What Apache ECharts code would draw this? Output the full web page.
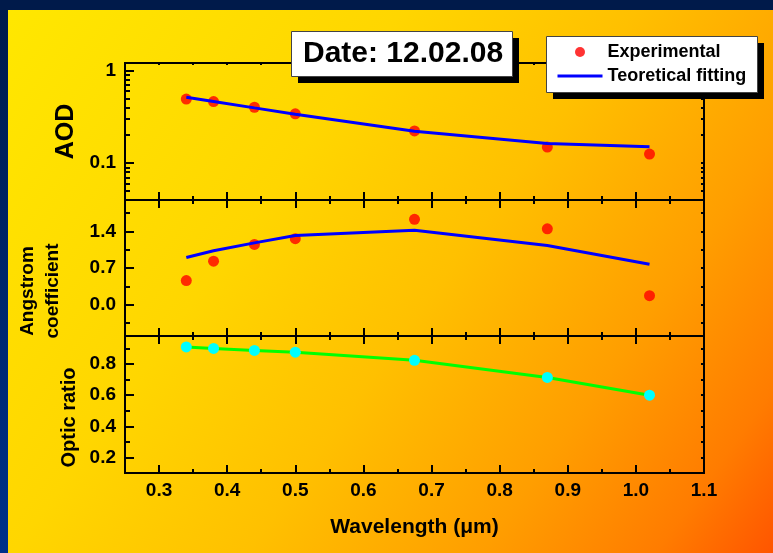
<!DOCTYPE html>
<html>
<head>
<meta charset="utf-8">
<script src="https://cdn.jsdelivr.net/npm/echarts@6/dist/echarts.min.js"></script>
<style>
  html, body { margin: 0; padding: 0; background: #001a4a; }
  #chart { width: 773px; height: 553px; }
</style>
</head>
<body>
<div id="chart"></div>
<script>
// Measurement wavelengths (µm)
const wavelengths = [0.34, 0.38, 0.44, 0.50, 0.675, 0.87, 1.02];

// Aerosol optical depth: measured and fitted
const aodMeasured = [0.49, 0.46, 0.40, 0.34, 0.222, 0.149, 0.125];
const aodFit = [0.514, 0.462, 0.394, 0.337, 0.220, 0.163, 0.150];

// Angstrom coefficient: measured and fitted
const angstromMeasured = [0.46, 0.83, 1.15, 1.26, 1.63, 1.45, 0.17];
const angstromFit = [0.90, 1.03, 1.18, 1.32, 1.42, 1.13, 0.77];

// Optic ratio
const opticRatio = [0.91, 0.90, 0.887, 0.876, 0.824, 0.714, 0.60];

// Tick positions
const wavelengthTicks = [0.3, 0.4, 0.5, 0.6, 0.7, 0.8, 0.9, 1.0, 1.1];
const wavelengthMinorTicks = [0.35, 0.45, 0.55, 0.65, 0.75, 0.85, 0.95, 1.05];
const aodMinorTicks = [0.05, 0.06, 0.07, 0.08, 0.09, 0.2, 0.3, 0.4, 0.5, 0.6, 0.7, 0.8, 0.9];
const aodAllTicks = [0.05, 0.06, 0.07, 0.08, 0.09, 0.1, 0.2, 0.3, 0.4, 0.5, 0.6, 0.7, 0.8, 0.9, 1];
const angstromTicks = [0.0, 0.7, 1.4];
const angstromMinorTicks = [-0.35, 0.35, 1.05, 1.75];
const opticTicks = [0.2, 0.4, 0.6, 0.8];
const opticMinorTicks = [0.3, 0.5, 0.7, 0.9];

const FONT = '"Liberation Sans", Arial, Helvetica, sans-serif';
const X_RANGE = [0.25, 1.1];
const AOD_RANGE = [0.04, 1.2];
const ANG_RANGE = [-0.6, 2.0];
const OPT_RANGE = [0.1, 0.98];

const zip = (xs, ys) => xs.map((x, i) => [x, ys[i]]);
const labelStyle = { color: '#000', fontSize: 19, fontWeight: 'bold', fontFamily: FONT };

const grids = [
  { left: 125, right: 69, top: 63, height: 137, containLabel: false, outerBoundsMode: 'none' },
  { left: 125, right: 69, top: 200, height: 136, containLabel: false, outerBoundsMode: 'none' },
  { left: 125, right: 69, top: 336, height: 137, containLabel: false, outerBoundsMode: 'none' }
];

const xAxes = [];
const yAxes = [];

function addX(gridIndex, position, ticks, len, extra) {
  xAxes.push(Object.assign({
    type: 'value', gridIndex, position, min: X_RANGE[0], max: X_RANGE[1],
    axisLine: { show: true, onZero: false, lineStyle: { color: '#000', width: 2 } },
    axisTick: { show: true, inside: true, length: len, customValues: ticks,
                lineStyle: { color: '#000', width: 2 } },
    axisLabel: { show: false },
    splitLine: { show: false }
  }, extra || {}));
  return xAxes.length - 1;
}

function addY(gridIndex, position, range, ticks, len, extra) {
  yAxes.push(Object.assign({
    type: 'value', gridIndex, position, min: range[0], max: range[1],
    axisLine: { show: true, onZero: false, lineStyle: { color: '#000', width: 2 } },
    axisTick: { show: true, inside: true, length: len, customValues: ticks,
                lineStyle: { color: '#000', width: 2 } },
    axisLabel: { show: false },
    splitLine: { show: false }
  }, extra || {}));
  return yAxes.length - 1;
}

// Wavelength axes: each panel has inward ticks on its bottom and top edges
const xMain = [];
for (let g = 0; g < 3; g++) {
  const bottomExtra = g === 2 ? {
    axisLabel: { show: true, customValues: wavelengthTicks, margin: 8,
                 formatter: v => v.toFixed(1), ...labelStyle },
    name: 'Wavelength (\u03bcm)', nameLocation: 'middle', nameGap: 44, nameMoveOverlap: false,
    nameTextStyle: { color: '#000', fontSize: 21, fontWeight: 'bold', fontFamily: FONT }
  } : {};
  xMain.push(addX(g, 'bottom', wavelengthTicks, 8, bottomExtra));
  addX(g, 'bottom', wavelengthMinorTicks, 4);
  if (g === 0) {
    addX(g, 'top', wavelengthTicks.concat(wavelengthMinorTicks), 2);
  } else {
    addX(g, 'top', wavelengthTicks, 8);
    addX(g, 'top', wavelengthMinorTicks, 4);
  }
}

// AOD panel: logarithmic scale
const log10 = v => Math.log10(v);
yAxes.push({
  type: 'log', logBase: 10, gridIndex: 0, position: 'left', min: AOD_RANGE[0], max: AOD_RANGE[1],
  axisLine: { show: true, onZero: false, lineStyle: { color: '#000', width: 2 } },
  axisTick: { show: true, inside: true, length: 9, lineStyle: { color: '#000', width: 2 } },
  axisLabel: {
    show: true, margin: 9, showMinLabel: false, showMaxLabel: false, ...labelStyle,
    formatter: v => {
      const e = Math.log10(v);
      return Math.abs(e - Math.round(e)) < 1e-6 ? String(+Math.pow(10, Math.round(e)).toPrecision(3)) : '';
    }
  },
  splitLine: { show: false },
  name: 'AOD', nameLocation: 'middle', nameRotate: 90, nameGap: 46, nameMoveOverlap: false,
  nameTextStyle: { color: '#000', fontSize: 25, fontWeight: 'bold', fontFamily: FONT }
});
const yAod = yAxes.length - 1;
const aodLogRange = AOD_RANGE.map(log10);
addY(0, 'left', aodLogRange, aodMinorTicks.map(log10), 5);
addY(0, 'right', aodLogRange, aodAllTicks.map(log10), 3);

// Angstrom coefficient panel
const yAng = addY(1, 'left', ANG_RANGE, angstromTicks, 9, {
  axisLabel: { show: true, customValues: angstromTicks, margin: 9,
               formatter: v => v.toFixed(1), ...labelStyle },
  name: 'Angstrom\ncoefficient', nameLocation: 'middle', nameRotate: 90, nameGap: 60, nameMoveOverlap: false,
  nameTextStyle: { color: '#000', fontSize: 19, fontWeight: 'bold', fontFamily: FONT,
                   lineHeight: 25, padding: [0, 46, 0, 0] }
});
addY(1, 'left', ANG_RANGE, angstromMinorTicks, 5);
addY(1, 'right', ANG_RANGE, angstromTicks.concat(angstromMinorTicks), 3);

// Optic ratio panel
const yOpt = addY(2, 'left', OPT_RANGE, opticTicks, 9, {
  axisLabel: { show: true, customValues: opticTicks, margin: 9,
               formatter: v => v.toFixed(1), ...labelStyle },
  name: 'Optic ratio', nameLocation: 'middle', nameRotate: 90, nameGap: 46, nameMoveOverlap: false,
  nameTextStyle: { color: '#000', fontSize: 20, fontWeight: 'bold', fontFamily: FONT,
                   padding: [0, 26, 0, 0] }
});
addY(2, 'left', OPT_RANGE, opticMinorTicks, 5);
addY(2, 'right', OPT_RANGE, opticTicks.concat(opticMinorTicks), 3);

// White boxes with a hard black drop shadow behind the date and the legend
function shadowBox(x, y, w, h) {
  return [
    { type: 'rect', x: x + 7, y: y + 7, z: 10, silent: true,
      shape: { x: 0, y: 0, width: w, height: h }, style: { fill: '#000' } },
    { type: 'rect', x: x + 0.5, y: y + 0.5, z: 11, silent: true,
      shape: { x: 0, y: 0, width: w, height: h },
      style: { fill: '#fff', stroke: '#444', lineWidth: 1 } }
  ];
}

const option = {
  animation: false,
  backgroundColor: 'transparent',
  graphic: [
    { type: 'rect', left: 0, top: 0, z: -10, silent: true,
      shape: { width: 773, height: 553 },
      style: { fill: new echarts.graphic.LinearGradient(0, 0, 1, 1, [
        { offset: 0, color: '#ffe800' },
        { offset: 0.35, color: '#ffd600' },
        { offset: 0.55, color: '#ffc000' },
        { offset: 0.75, color: '#ff9e00' },
        { offset: 0.9, color: '#ff7c00' },
        { offset: 1, color: '#ff5500' }
      ]) } },
    { type: 'rect', left: 0, top: 0, z: -9, silent: true,
      shape: { width: 8, height: 553 },
      style: { fill: new echarts.graphic.LinearGradient(0, 0, 0, 1, [
        { offset: 0, color: '#001a4a' }, { offset: 1, color: '#00308a' }
      ]) } },
    { type: 'rect', left: 0, top: 0, z: -9, silent: true,
      shape: { width: 773, height: 10 }, style: { fill: '#001a4a' } },
    ...shadowBox(291, 31, 221, 45),
    ...shadowBox(546, 36, 211, 56)
  ],
  title: {
    text: 'Date: 12.02.08', left: 291, top: 31, z: 20,
    padding: [8, 11, 8, 12],
    textStyle: { color: '#000', fontSize: 30, fontWeight: 'bold', fontFamily: FONT, lineHeight: 30 }
  },
  legend: {
    data: [
      'Experimental',
      { name: 'Teoretical fitting', itemStyle: { opacity: 0 },
        lineStyle: { width: 3, color: '#0000ff' } }
    ],
    orient: 'vertical', left: 546, top: 36, z: 20,
    padding: [7, 12, 7, 10], itemGap: 6, itemWidth: 45, itemHeight: 10,
    textStyle: { color: '#000', fontSize: 18, fontWeight: 'bold', fontFamily: FONT },
    selectedMode: false
  },
  grid: grids,
  xAxis: xAxes,
  yAxis: yAxes,
  series: [
    { name: 'Experimental', type: 'scatter', xAxisIndex: xMain[0], yAxisIndex: yAod,
      data: zip(wavelengths, aodMeasured), symbol: 'circle', symbolSize: 11,
      itemStyle: { color: '#ff0000' }, z: 2 },
    { name: 'Teoretical fitting', type: 'line', xAxisIndex: xMain[0], yAxisIndex: yAod,
      data: zip(wavelengths, aodFit), symbol: 'none',
      lineStyle: { color: '#0000ff', width: 3 }, itemStyle: { color: '#0000ff' }, z: 3 },
    { name: 'Experimental', type: 'scatter', xAxisIndex: xMain[1], yAxisIndex: yAng,
      data: zip(wavelengths, angstromMeasured), symbol: 'circle', symbolSize: 11,
      itemStyle: { color: '#ff0000' }, z: 2 },
    { name: 'Teoretical fitting', type: 'line', xAxisIndex: xMain[1], yAxisIndex: yAng,
      data: zip(wavelengths, angstromFit), symbol: 'none',
      lineStyle: { color: '#0000ff', width: 3 }, itemStyle: { color: '#0000ff' }, z: 3 },
    { name: 'Optic ratio', type: 'line', xAxisIndex: xMain[2], yAxisIndex: yOpt,
      data: zip(wavelengths, opticRatio), symbol: 'circle', symbolSize: 11, showSymbol: true,
      lineStyle: { color: '#00ff00', width: 3 }, itemStyle: { color: '#00ffff' }, z: 3 }
  ]
};

const chart = echarts.init(document.getElementById('chart'), null, { renderer: 'canvas' });
chart.setOption(option);
</script>
</body>
</html>
